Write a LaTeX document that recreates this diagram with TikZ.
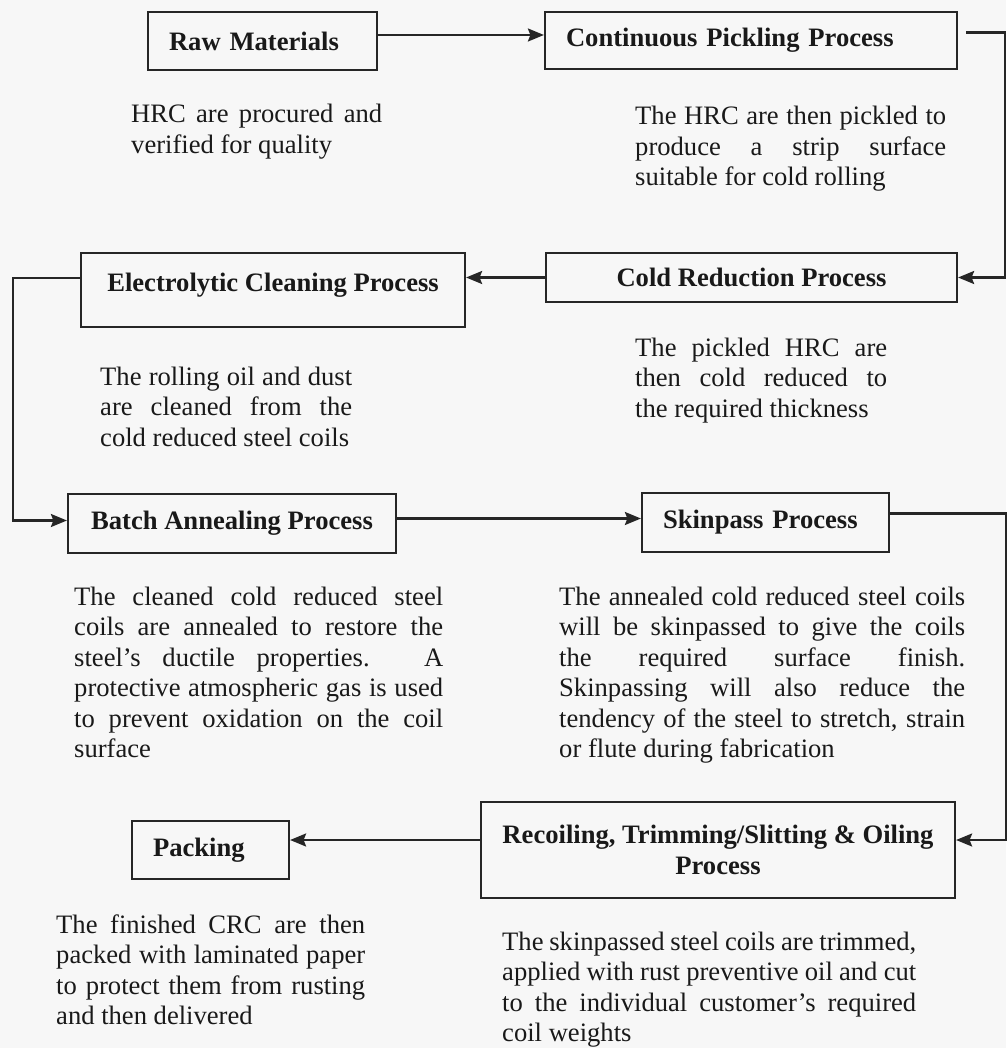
\documentclass[tikz,border=0pt]{standalone}
\usepackage{fontspec}
\setmainfont{Liberation Serif}
\usetikzlibrary{arrows.meta}
\begin{document}
\begin{tikzpicture}[x=1pt,y=-1pt,
  box/.style={draw=black!85, line width=2.2pt, rectangle, inner sep=0pt,
    font=\fontsize{26.6}{30.5}\selectfont\bfseries, text=black!90},
  lbox/.style={box, align=left, inner xsep=21pt},
  desc/.style={anchor=base west, inner sep=0pt, align=justify,
    font=\fontsize{26.6}{30.5}\selectfont, text=black!90},
  conn/.style={draw=black!85, line width=2.2pt},
  arr/.style={conn, -{Stealth[length=16pt,width=13pt,inset=2.5pt]}}
]
\fill[white!97!black] (0,0) rectangle (1006,1048);
\useasboundingbox (0,0) rectangle (1006,1048);

% process boxes
\node[lbox, text width=187pt, minimum height=58pt] (raw) at (262.5,41) {Raw Materials};
\node[lbox, text width=370pt, minimum height=57pt] (pick) at (751,40.5) {Continuous Pickling Process};
\node[box, minimum width=411pt, minimum height=49pt] (cold) at (751.5,277.5) {Cold Reduction Process};
\node[box, minimum width=384pt, minimum height=74pt, text height=18pt, text depth=16pt] (elec) at (273,290) {Electrolytic Cleaning Process};
\node[box, minimum width=328pt, minimum height=59pt] (batch) at (232,523.5) {Batch Annealing Process};
\node[lbox, text width=205pt, minimum height=59pt] (skin) at (765.5,522.5) {Skinpass Process};
\node[box, minimum width=474pt, minimum height=96pt, align=center] (recoil) at (718,850) {Recoiling, Trimming/Slitting \& Oiling\\Process};
\node[lbox, text width=115pt, minimum height=58pt] (pack) at (210.5,850) {Packing};

% descriptions
\node[desc, text width=251pt] (draw) at (131,123) {HRC are procured and\linebreak verified for quality};
\node[desc, text width=311pt] (dpick) at (635,125) {The HRC are then pickled to\linebreak produce a strip surface\linebreak suitable for cold rolling};
\node[desc, text width=252pt] (dcold) at (635,356) {The pickled HRC are\linebreak then cold reduced to\linebreak the required thickness};
\node[desc, text width=252pt] (delec) at (100,385) {The rolling oil and dust\linebreak are cleaned from the\linebreak cold reduced steel coils};
\node[desc, text width=369pt] (dbatch) at (74,605) {The cleaned cold reduced steel\linebreak coils are annealed to restore the\linebreak steel’s ductile properties. A\linebreak protective atmospheric gas is used\linebreak to prevent oxidation on the coil\linebreak surface};
\node[desc, text width=406pt] (dskin) at (559,605) {The annealed cold reduced steel coils\linebreak will be skinpassed to give the coils\linebreak the required surface finish.\linebreak Skinpassing will also reduce the\linebreak tendency of the steel to stretch, strain\linebreak or flute during fabrication};
\node[desc, text width=309pt] (dpack) at (56,933) {The finished CRC are then\linebreak packed with laminated paper\linebreak to protect them from rusting\linebreak and then delivered};
\node[desc, text width=414pt] (drecoil) at (502,950) {The skinpassed steel coils are trimmed,\linebreak applied with rust preventive oil and cut\linebreak to the individual customer’s required\linebreak coil weights};

% connectors
\coordinate (a1) at ([yshift=6pt]raw.east);
\draw[arr] (a1) -- (a1 -| pick.west);

\coordinate (a2) at ([xshift=8pt,yshift=8pt]pick.east);
\draw[arr] (a2) -- ++(39,0) |- (cold.east);

\draw[arr] (cold.west) -- (cold.west -| elec.east);

\coordinate (a4) at ([yshift=12pt]elec.west);
\coordinate (b4) at ([yshift=3pt]batch.west);
\draw[arr] (a4) -- ++(-67,0) |- (b4);

\coordinate (a5) at ([yshift=5pt]batch.east);
\draw[arr] (a5) -- (a5 -| skin.west);

\coordinate (a6) at ([yshift=9pt]skin.east);
\coordinate (b6) at ([yshift=10pt]recoil.east);
\draw[arr] (a6) -- ++(116,0) |- (b6);

\coordinate (a7) at ([yshift=10pt]recoil.west);
\draw[arr] (a7) -- (a7 -| pack.east);
\end{tikzpicture}
\end{document}
